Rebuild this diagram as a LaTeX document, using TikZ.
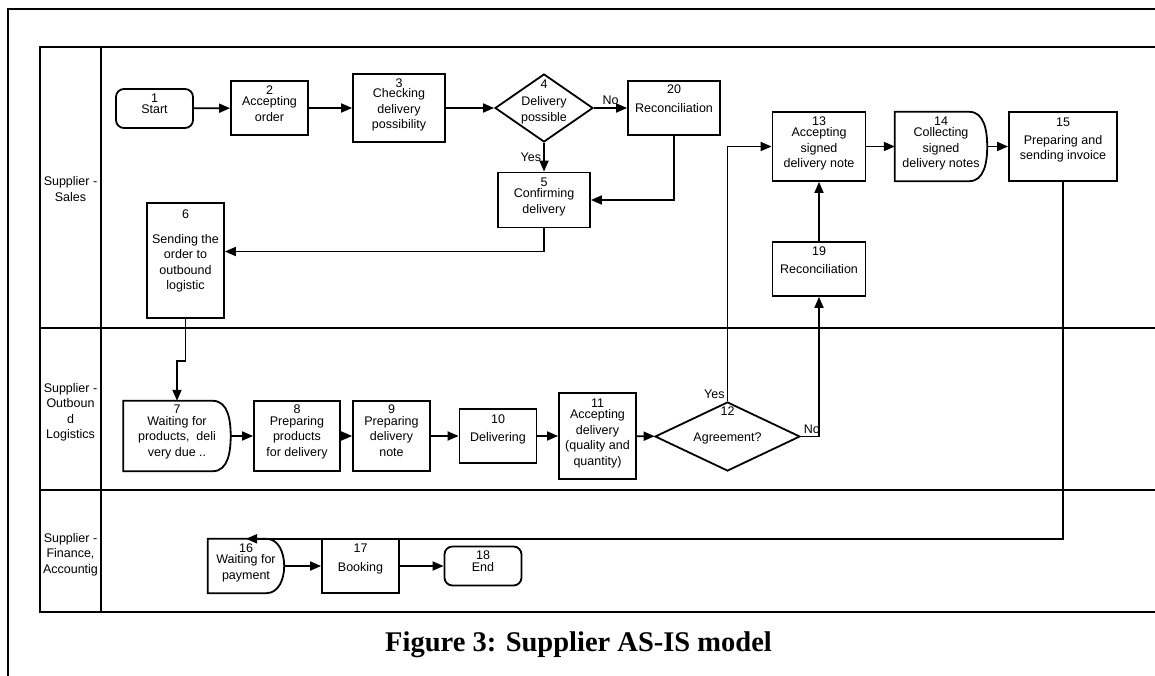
\documentclass[tikz,border=0pt]{standalone}
\usepackage{fontspec}
\setmainfont{Liberation Sans}
\newfontfamily\capfont{Liberation Serif}
\usetikzlibrary{shapes.geometric,arrows.meta}

% text block of zero size, so the node keeps the size it is given
\newcommand{\ztext}[2][0pt]{\smash{\raisebox{#1}{\makebox[0pt]{\begin{tabular}{@{}c@{}}#2\end{tabular}}}}}
% outline of a waiting step (flat left side, round right side)
\newcommand{\waitoutline}[1]{%
  \draw[line width=1.8pt] (#1.north west) -- ([xshift=-18pt]#1.north east)
    to[out=0,in=90] (#1.east) to[out=-90,in=0] ([xshift=-18pt]#1.south east)
    -- (#1.south west) -- cycle;}

\tikzset{
  every node/.style={font=\fontsize{12.5}{15.5}\selectfont, inner sep=0pt},
  task/.style={draw, line width=1.8pt, rectangle},
  term/.style={task, rounded corners=8pt},
  decision/.style={draw, line width=1.8pt, diamond},
  waitbox/.style={rectangle},
  flow/.style={line width=1.8pt, -{Triangle[length=11pt,width=9pt]}},
  lane/.style={line width=1.8pt},
  tag/.style={inner sep=2pt}
}

\begin{document}
\begin{tikzpicture}[x=1pt, y=-1pt]
  \useasboundingbox (0,0) rectangle (1155,676);

  % Frame and pool
  \draw[line width=1.4pt] (8,676) -- (8,9) -- (1155,9);
  \draw[lane] (1155,47) -- (40,47) -- (40,612) -- (1155,612);
  \draw[lane] (40,328) -- (1155,328);
  \draw[lane] (40,490) -- (1155,490);
  \draw[lane] (101,47) -- (101,612);

  % Lanes
  \node (lsales) at (70.5,189) {\ztext[-4.5pt]{Supplier -\\Sales}};
  \node (llog) at (70.5,411) {\ztext[-4.5pt]{Supplier -\\Outboun\\d\\Logistics}};
  \node (lfin) at (70.5,553) {\ztext[-4.5pt]{Supplier -\\Finance,\\Accountig}};

  % Nodes: sales
  \node[term, minimum width=77pt, minimum height=39pt] (n1) at (154.5,108.5) {\ztext[0.5pt]{1\\[-4pt]Start}};
  \node[task, minimum width=77pt, minimum height=54pt] (n2) at (269.5,108) {\ztext[0.5pt]{2\\[-4pt]Accepting\\order}};
  \node[task, minimum width=92pt, minimum height=68pt] (n3) at (399,108) {\ztext{3\\[-5pt]Checking\\delivery\\possibility}};
  \node[decision, minimum width=98pt, minimum height=68pt] (n4) at (544,108) {\ztext[3.5pt]{4\\[2pt]Delivery\\possible}};
  \node[task, minimum width=92pt, minimum height=54pt] (n20) at (674,108) {\ztext[5pt]{20\\[3pt]Reconciliation}};
  \node[task, minimum width=92pt, minimum height=55pt] (n5) at (544,200) {\ztext[0.5pt]{5\\[-4pt]Confirming\\delivery}};
  \node[task, minimum width=77pt, minimum height=115pt] (n6) at (185.5,260.5) {\ztext[6.5pt]{6\\[9pt]Sending the\\order to\\outbound\\logistic}};
  \node[task, minimum width=93pt, minimum height=69pt] (n13) at (819,146.5) {\ztext{13\\[-4pt]Accepting\\signed\\delivery note}};
  \node[waitbox, minimum width=92pt, minimum height=69pt] (n14) at (941,146.5) {\ztext{14\\[-4pt]Collecting\\signed\\delivery notes}};
  \node[task, minimum width=108pt, minimum height=69pt] (n15) at (1063,146.5) {\ztext[3.5pt]{15\\[2pt]Preparing and\\sending invoice}};
  \node[task, minimum width=93pt, minimum height=54pt] (n19) at (819,269) {\ztext[4.5pt]{19\\[2pt]Reconciliation}};

  % Nodes: outbound logistics
  \node[waitbox, minimum width=107pt, minimum height=70pt] (n7) at (177,436) {\ztext[1pt]{7\\[-4pt]Waiting for\\products,\ \ deli\\very due ..}};
  \node[task, minimum width=86pt, minimum height=70pt] (n8) at (297,436) {\ztext[1pt]{8\\[-4pt]Preparing\\products\\for delivery}};
  \node[task, minimum width=77pt, minimum height=70pt] (n9) at (391.5,436) {\ztext[1pt]{9\\[-4pt]Preparing\\delivery\\note}};
  \node[task, minimum width=77pt, minimum height=54pt] (n10) at (498,436) {\ztext[3.5pt]{10\\[2pt]Delivering}};
  \node[task, minimum width=77pt, minimum height=86pt] (n11) at (597.5,436) {\ztext{11\\[-4pt]Accepting\\delivery\\(quality and\\quantity)}};
  \node[decision, minimum width=145pt, minimum height=69pt] (n12) at (727.5,436.5) {\ztext[8pt]{12\\[11pt]Agreement?}};

  % Nodes: finance
  \node[waitbox, minimum width=76pt, minimum height=54pt] (n16) at (246,566) {\ztext[0.5pt]{16\\[-4pt]Waiting for\\payment}};
  \node[task, minimum width=77pt, minimum height=54pt] (n17) at (360.5,566) {\ztext[4pt]{17\\[3pt]Booking}};
  \node[term, minimum width=77pt, minimum height=39pt] (n18) at (483,566) {\ztext[0.5pt]{18\\[-4pt]End}};

  \foreach \w in {n7,n14,n16} {\waitoutline{\w}}

  % Edges
  \foreach \a/\b in {n1/n2, n2/n3, n3/n4, n7/n8, n8/n9, n9/n10, n10/n11, n11/n12,
                     n19/n13, n13/n14, n14/n15, n16/n17, n17/n18}
    \draw[flow] (\a) -- (\b);

  \draw[flow] (n4) -- (n20) node[midway, above, tag] {No};
  \draw[flow] (n4) -- (n5) node[midway, left, tag] {Yes};
  \draw[flow] (n20.south) |- (n5.east);
  \draw[flow] (n5.south) |- ([yshift=9pt]n6.east);
  \draw[flow] (n6.south) -- ++(0,42) -| (n7.north);
  \draw[flow] (n12.north) |- (n13.west) node[pos=0, above left, tag] {Yes};
  \draw[flow] (n12.east) -| (n19.south) node[pos=0, above right, tag] {No};
  \draw[flow] (n15.south) |- (n16.north);

  % Caption
  \node[anchor=base west, font={\capfont\bfseries\fontsize{28.5}{32}\selectfont}] (caption) at (385,651) {Figure 3: Supplier AS-IS model};
\end{tikzpicture}
\end{document}
